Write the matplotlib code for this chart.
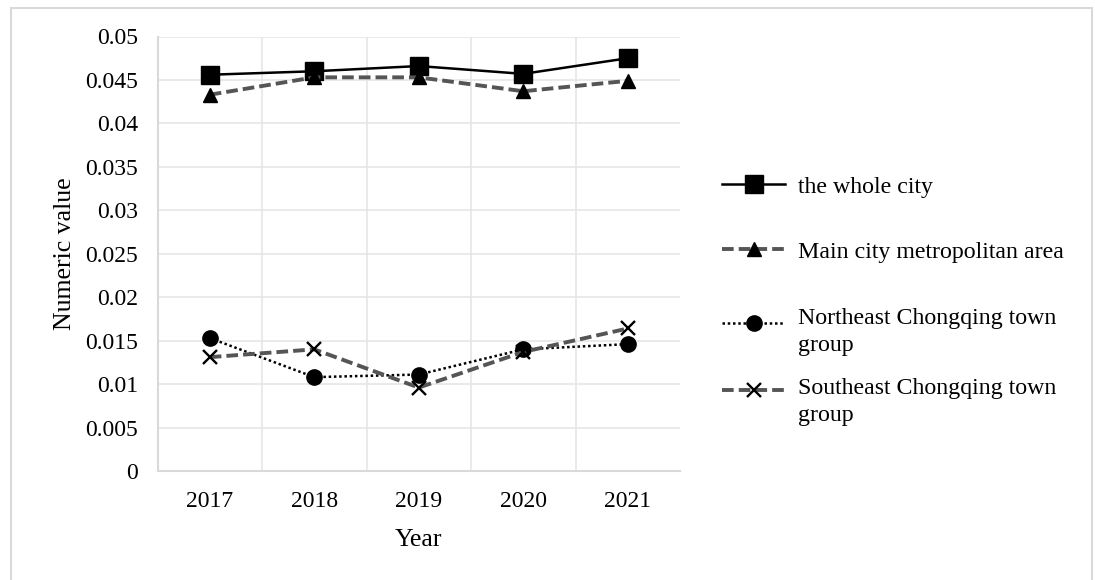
import matplotlib.pyplot as plt
from matplotlib.patches import Rectangle

years = ["2017", "2018", "2019", "2020", "2021"]
whole_city = [0.0456, 0.0460, 0.0466, 0.0457, 0.0475]
main_metro = [0.0433, 0.0453, 0.0453, 0.0437, 0.0449]
northeast = [0.0153, 0.0108, 0.0111, 0.0140, 0.0146]
southeast = [0.0131, 0.0140, 0.0096, 0.0137, 0.0164]
labels = ["the whole city", "Main city metropolitan area",
          "Northeast Chongqing town\ngroup", "Southeast Chongqing town\ngroup"]

plt.rcParams['font.family'] = ['Liberation Serif', 'DejaVu Serif']

fig = plt.figure(figsize=(10.95, 5.8), dpi=100)
W, H = 1095, 580

# outer chart frame
fig.patches.append(Rectangle((11 / W, -0.05), (1092 - 11) / W, 1.05 - 8 / H,
                             transform=fig.transFigure, fill=False,
                             edgecolor='#d9d9d9', linewidth=1.5))

ax = fig.add_axes([157.5 / W, 1 - 471 / H, (680 - 157.5) / W, (471 - 36.5) / H])
x = list(range(len(years)))

dash = (0, (3.0, 1.3))
lines = []
lines += ax.plot(x, whole_city, color='black', linestyle='-', linewidth=1.8,
                 marker='s', markersize=12.5)
lines += ax.plot(x, main_metro, color='#555555', linestyle=dash, linewidth=2.8,
                 marker='^', markersize=10, markerfacecolor='black',
                 markeredgecolor='black')
lines += ax.plot(x, northeast, color='black', linestyle=(0, (1, 1.1)), linewidth=1.8,
                 marker='o', markersize=11)
lines += ax.plot(x, southeast, color='#555555', linestyle=dash, linewidth=2.8,
                 marker='x', markersize=9.5, markeredgewidth=1.7,
                 markeredgecolor='black')

ax.set_xlim(-0.5, len(years) - 0.5)
ax.set_ylim(0, 0.05)
ax.set_yticks([i * 0.005 for i in range(11)])
ax.set_yticklabels(["0", "0.005", "0.01", "0.015", "0.02", "0.025", "0.03",
                    "0.035", "0.04", "0.045", "0.05"])
ax.set_xticks(x)
ax.set_xticklabels(years)
ax.set_xticks([i + 0.5 for i in range(len(years) - 1)], minor=True)

ax.grid(True, which='major', axis='y', color='#e6e6e6', linewidth=1.2)
ax.grid(True, which='minor', axis='x', color='#e6e6e6', linewidth=1.2)
ax.set_axisbelow(True)
for side in ['top', 'right']:
    ax.spines[side].set_visible(False)
for side in ['left', 'bottom']:
    ax.spines[side].set_color('#d9d9d9')
    ax.spines[side].set_linewidth(1.5)

ax.tick_params(axis='both', which='both', length=0, labelsize=17)
ax.tick_params(axis='x', pad=14.5)
ax.tick_params(axis='y', pad=14)
ax.set_xlabel("Year", fontsize=18.5, va='center')
ax.set_ylabel("Numeric value", fontsize=18.5, va='center')
ax.xaxis.set_label_coords(0.5, (471 - 540) / 434.5)
ax.yaxis.set_label_coords((65 - 157.5) / 522.5, 0.5)

# legend: one entry per block so each row sits at its own height
row_y = [187, 252, 323, 390]
text_shift = [0, 0, -9, -12]
for line, lab, ry, dy in zip(lines, labels, row_y, text_shift):
    leg = fig.legend([line], [lab], loc='center left',
                     bbox_to_anchor=(722 / W, 1 - ry / H),
                     frameon=False, fontsize=17.2, handlelength=2.64,
                     handletextpad=0.55, borderpad=0, borderaxespad=0)
    for t in leg.get_texts():
        t.set_linespacing(1.35)
        t.set_y(dy)

fig.savefig("out.png", dpi=100)
